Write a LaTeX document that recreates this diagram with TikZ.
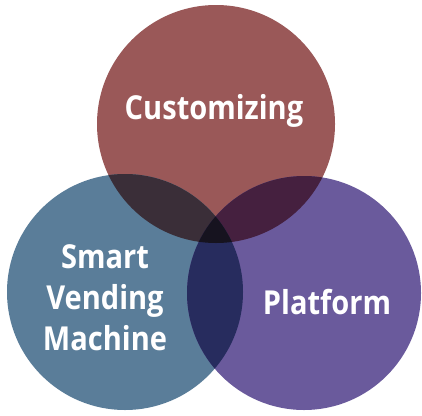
\documentclass[tikz,border=0pt]{standalone}
\usepackage{fontspec}
\setmainfont{Open Sans}[FakeStretch=0.88]
\begin{document}
\begin{tikzpicture}[x=1pt,y=-1pt,
  lbl/.style={text=white,font=\fontsize{33}{41}\selectfont\bfseries,align=center,inner sep=0pt}]
\definecolor{cTop}{HTML}{9A5858}
\definecolor{cLeft}{HTML}{5A7D99}
\definecolor{cRight}{HTML}{6A5A9C}
\definecolor{cTL}{HTML}{3A2E38}
\definecolor{cTR}{HTML}{45203F}
\definecolor{cLR}{HTML}{272C5E}
\definecolor{cAll}{HTML}{16131F}
\useasboundingbox[fill=white] (0,0) rectangle (422,415);
\def\Ctop{(216,124) circle (119)}
\def\Cleft{(125,292) circle (118)}
\def\Cright{(304,293) circle (117)}
\fill[cTop] \Ctop;
\fill[cLeft] \Cleft;
\fill[cRight] \Cright;
\begin{scope}\clip \Ctop; \fill[cTL] \Cleft; \end{scope}
\begin{scope}\clip \Ctop; \fill[cTR] \Cright; \end{scope}
\begin{scope}\clip \Cleft; \fill[cLR] \Cright; \end{scope}
\begin{scope}\clip \Ctop; \clip \Cleft; \fill[cAll] \Cright; \end{scope}
\node[lbl] (cust) at (214,111) {Customizing};
\node[lbl] (svm) at (105,298) {Smart\\Vending\\Machine};
\node[lbl] (plat) at (327,302) {Platform};
\end{tikzpicture}
\end{document}
